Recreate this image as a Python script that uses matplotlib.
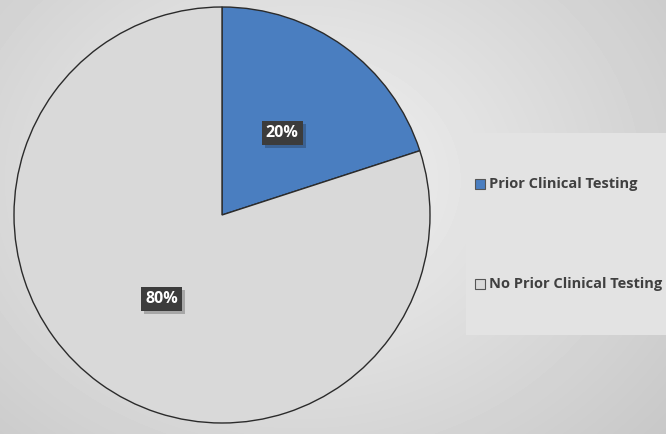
import numpy as np
import matplotlib.pyplot as plt
import matplotlib.patheffects as pe

# Data
labels = ["Prior Clinical Testing", "No Prior Clinical Testing"]
values = [20, 80]
colors = ["#4a7ec0", "#d9d9d9"]

fnt = "Open Sans"

fig = plt.figure(figsize=(6.66, 4.34), dpi=100)

# background radial gradient
bg = fig.add_axes([0, 0, 1, 1])
yy, xx = np.mgrid[0:434, 0:666]
r = np.sqrt(((xx - 300) / 520.0) ** 2 + ((yy - 180) / 420.0) ** 2)
shade = 0.95 - 0.18 * np.clip(r, 0, 1.2)
bg.imshow(shade, cmap="gray", vmin=0, vmax=1, aspect="auto", extent=[0, 666, 434, 0])
bg.set_xlim(0, 666)
bg.set_ylim(434, 0)
bg.axis("off")

# legend box
bg.add_patch(plt.Rectangle((466, 133), 200, 202, facecolor="#e3e3e3", edgecolor="none"))

# pie
ax = fig.add_axes([14 / 666, 11 / 434, 416 / 666, 416 / 434])
wedges, texts = ax.pie(values, colors=colors, startangle=90, counterclock=False,
                       wedgeprops=dict(edgecolor="#2b2b2b", linewidth=1.0))
ax.set_xlim(-1, 1)
ax.set_ylim(-1, 1)
ax.set_aspect("equal")

# percentage labels with a soft shadow
label_pos = [(0.29, 0.395), (-0.29, -0.405)]
for (x, y), v in zip(label_pos, values):
    t = ax.text(x, y, f"{v}%", ha="center", va="center", color="white", fontsize=11.5,
                fontweight="bold", family=fnt,
                bbox=dict(boxstyle="square,pad=0.25", facecolor="#3c3c3c", edgecolor="none"))
    t.get_bbox_patch().set_path_effects([pe.SimplePatchShadow(offset=(2, -2), alpha=0.25), pe.Normal()])

# legend
leg_y = [184, 284]
for lab, c, y in zip(labels, colors, leg_y):
    bg.add_patch(plt.Rectangle((475, y - 5), 10, 10, facecolor=c, edgecolor="#555555", linewidth=0.8))
    bg.text(489, y, lab, ha="left", va="center", fontsize=10.5, fontweight="bold",
            color="#404040", family=fnt)

fig.savefig("out.png", dpi=100)
